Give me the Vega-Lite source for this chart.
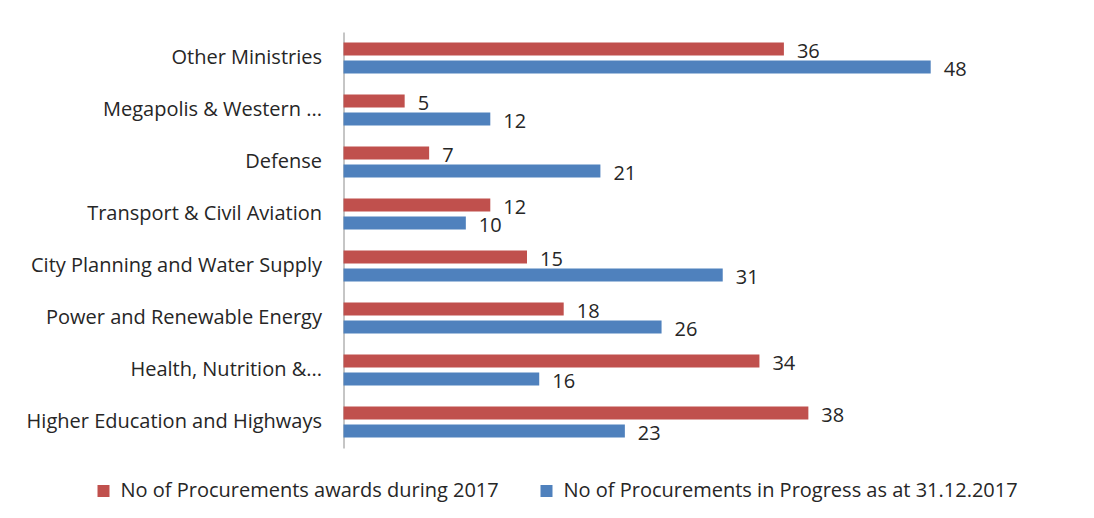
{
  "$schema": "https://vega.github.io/schema/vega-lite/v6.json",
  "width": 734,
  "height": 416,
  "autosize": {"type": "none"},
  "padding": {"left": 343.5, "top": 32, "right": 16.5, "bottom": 70},
  "background": "white",
  "config": {
    "view": {"stroke": null},
    "font": "Open Sans",
    "text": {"font": "Open Sans"}
  },
  "data": {
    "values": [
      {"ministry": "Other Ministries", "series": "No of Procurements awards during 2017", "value": 36},
      {"ministry": "Other Ministries", "series": "No of Procurements in Progress as at 31.12.2017", "value": 48},
      {"ministry": "Megapolis & Western ...", "series": "No of Procurements awards during 2017", "value": 5},
      {"ministry": "Megapolis & Western ...", "series": "No of Procurements in Progress as at 31.12.2017", "value": 12},
      {"ministry": "Defense", "series": "No of Procurements awards during 2017", "value": 7},
      {"ministry": "Defense", "series": "No of Procurements in Progress as at 31.12.2017", "value": 21},
      {"ministry": "Transport & Civil Aviation", "series": "No of Procurements awards during 2017", "value": 12},
      {"ministry": "Transport & Civil Aviation", "series": "No of Procurements in Progress as at 31.12.2017", "value": 10},
      {"ministry": "City Planning and Water Supply", "series": "No of Procurements awards during 2017", "value": 15},
      {"ministry": "City Planning and Water Supply", "series": "No of Procurements in Progress as at 31.12.2017", "value": 31},
      {"ministry": "Power and Renewable Energy", "series": "No of Procurements awards during 2017", "value": 18},
      {"ministry": "Power and Renewable Energy", "series": "No of Procurements in Progress as at 31.12.2017", "value": 26},
      {"ministry": "Health, Nutrition &...", "series": "No of Procurements awards during 2017", "value": 34},
      {"ministry": "Health, Nutrition &...", "series": "No of Procurements in Progress as at 31.12.2017", "value": 16},
      {"ministry": "Higher Education and Highways", "series": "No of Procurements awards during 2017", "value": 38},
      {"ministry": "Higher Education and Highways", "series": "No of Procurements in Progress as at 31.12.2017", "value": 23}
    ]
  },
  "encoding": {
    "y": {
      "field": "ministry",
      "type": "nominal",
      "sort": null,
      "scale": {"paddingInner": 0.404, "paddingOuter": 0.202},
      "axis": {
        "title": null,
        "domain": true,
        "domainColor": "#8c8c8c",
        "domainWidth": 1,
        "ticks": false,
        "labelPadding": 22,
        "labelFontSize": 20,
        "labelFont": "Open Sans",
        "labelColor": "#262626",
        "labelLimit": 400
      }
    },
    "yOffset": {
      "field": "series",
      "sort": null,
      "scale": {"paddingInner": 0.278, "paddingOuter": 0}
    },
    "x": {
      "field": "value",
      "type": "quantitative",
      "scale": {"domain": [0, 60], "nice": false, "zero": true},
      "axis": null
    }
  },
  "layer": [
    {
      "mark": {"type": "bar"},
      "encoding": {
        "color": {
          "field": "series",
          "type": "nominal",
          "sort": null,
          "scale": {"range": ["#C0504D", "#4F81BD"]},
          "legend": {
            "title": null,
            "orient": "none",
            "legendX": -250,
            "legendY": 449,
            "direction": "horizontal",
            "symbolType": "square",
            "symbolSize": 144,
            "symbolStrokeWidth": 0,
            "labelFontSize": 20,
            "labelFont": "Open Sans",
            "labelColor": "#262626",
            "labelOffset": 7,
            "columnPadding": 37,
            "labelLimit": 600
          }
        }
      }
    },
    {
      "mark": {"type": "text", "align": "left", "baseline": "middle", "dx": 13, "dy": 3, "fontSize": 20, "font": "Open Sans", "color": "#262626"},
      "encoding": {
        "text": {"field": "value", "type": "quantitative"}
      }
    }
  ]
}
